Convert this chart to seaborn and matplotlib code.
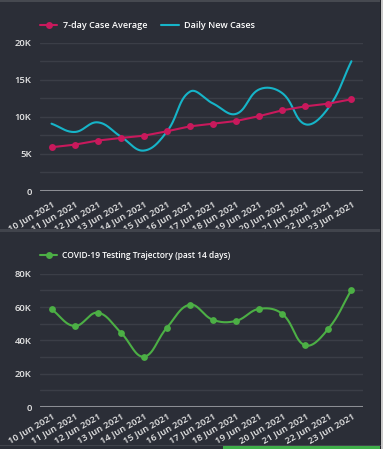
import numpy as np
import pandas as pd
import matplotlib
matplotlib.use("Agg")
import matplotlib.pyplot as plt
from matplotlib.patches import Rectangle
from matplotlib.ticker import FuncFormatter, MultipleLocator
import seaborn as sns

# ---------------- data ----------------
dates = ["10 Jun 2021", "11 Jun 2021", "12 Jun 2021", "13 Jun 2021", "14 Jun 2021",
         "15 Jun 2021", "16 Jun 2021", "17 Jun 2021", "18 Jun 2021", "19 Jun 2021",
         "20 Jun 2021", "21 Jun 2021", "22 Jun 2021", "23 Jun 2021"]
avg_cases = [5900, 6250, 6800, 7150, 7460, 8050, 8720, 9080, 9440, 10100,
             10880, 11420, 11780, 12370]
daily_cases = [9080, 7960, 9260, 7350, 5450, 8000, 13400, 11800, 10400, 13700,
               13200, 9000, 11200, 17500]
tests = [58700, 48600, 56600, 44700, 30200, 47600, 61400, 52300, 51700, 58900,
         55900, 37000, 47000, 70300]

BG = "#2b2e37"
GRID = "#3b3e47"
TXT = "#e6e6e6"
RED = "#c8195c"
CYAN = "#16b4c8"
GREEN = "#4caf45"
FS_TICK = 6.8

sns.set_theme(style="dark")
plt.rcParams["font.family"] = ["Open Sans", "DejaVu Sans"]

fig = plt.figure(figsize=(3.83, 4.49), dpi=100, facecolor=BG)


def kfmt(v, _):
    return "0" if v == 0 else f"{int(v/1000)}K"


def spline(ax, xs, ys, tension=0.4, n=30):
    """Chart.js-like cardinal spline computed in display space."""
    pts = ax.transData.transform(np.column_stack([xs, ys]))
    m = len(pts)
    cps = []
    for i in range(m):
        p1 = pts[i]
        p0 = pts[i - 1] if i > 0 else p1
        p2 = pts[i + 1] if i < m - 1 else p1
        d01 = np.hypot(*(p1 - p0))
        d12 = np.hypot(*(p2 - p1))
        tot = d01 + d12
        s01 = d01 / tot if tot else 0
        s12 = d12 / tot if tot else 0
        fa, fb = tension * s01, tension * s12
        cps.append((p1 - fa * (p2 - p0), p1 + fb * (p2 - p0)))
    out = []
    t = np.linspace(0, 1, n)[:, None]
    for i in range(m - 1):
        a, b = pts[i], pts[i + 1]
        c1, c2 = cps[i][1], cps[i + 1][0]
        seg = ((1 - t) ** 3) * a + 3 * ((1 - t) ** 2) * t * c1 + 3 * (1 - t) * t ** 2 * c2 + t ** 3 * b
        out.append(seg if i == 0 else seg[1:])
    out = np.vstack(out)
    data = ax.transData.inverted().transform(out)
    return data[:, 0], data[:, 1]


def style_axes(ax, ymax, step, minor, xpad):
    ax.set_facecolor(BG)
    ax.set_xlim(-0.5, len(dates) - 0.5)
    ax.set_ylim(0, ymax)
    ax.yaxis.set_major_locator(MultipleLocator(step))
    ax.yaxis.set_minor_locator(MultipleLocator(minor))
    ax.yaxis.set_major_formatter(FuncFormatter(kfmt))
    ax.grid(True, which="both", axis="y", color=GRID, linewidth=1)
    ax.grid(False, axis="x")
    for s in ax.spines.values():
        s.set_visible(False)
    ax.axhline(0, color="#8c8e94", linewidth=2.2, zorder=1.5)
    ax.set_xticks(range(len(dates)))
    ax.set_xticklabels(dates, rotation=30, ha="right", rotation_mode="anchor",
                       fontsize=FS_TICK, color=TXT, fontweight="semibold")
    ax.tick_params(axis="y", labelsize=FS_TICK, labelcolor=TXT, length=0, pad=6)
    ax.tick_params(axis="x", length=0, pad=xpad)
    for lab in ax.get_yticklabels():
        lab.set_fontweight("semibold")
    ax.set_xlabel("")
    ax.set_ylabel("")


# ---------------- top chart ----------------
ax1 = fig.add_axes([0.1044, 0.5746, 0.8433, 0.3303])
style_axes(ax1, 20000, 5000, 2500, 6)
idx = np.arange(len(dates))
sx, sy = spline(ax1, idx, daily_cases)
sns.lineplot(x=sx, y=sy, ax=ax1, color=CYAN, linewidth=1.5, sort=False,
             estimator=None, zorder=3)
sns.lineplot(x=idx, y=avg_cases, ax=ax1, color=RED, linewidth=1.5, marker="o",
             markersize=5, markeredgewidth=0, estimator=None, zorder=4)
ax1.set_xlim(-0.5, len(dates) - 0.5)
ax1.set_ylim(0, 20000)

h1 = [plt.Line2D([], [], color=RED, lw=1.5, marker="o", markersize=5, markeredgewidth=0),
      plt.Line2D([], [], color=CYAN, lw=1.5)]
leg = ax1.legend(h1, ["7-day Case Average", "Daily New Cases"], loc="lower left",
                 bbox_to_anchor=(0.0, 1.085), ncol=2, frameon=False, fontsize=6.5,
                 handlelength=1.9, handletextpad=0.6, columnspacing=1.6, borderaxespad=0,
                 borderpad=0)
for t in leg.get_texts():
    t.set_color("white")
    t.set_fontweight("semibold")

# ---------------- bottom chart ----------------
ax2 = fig.add_axes([0.1044, 0.0935, 0.8433, 0.2969])
style_axes(ax2, 80000, 20000, 10000, 3)
gx, gy = spline(ax2, idx, tests)
sns.lineplot(x=gx, y=gy, ax=ax2, color=GREEN, linewidth=1.5, sort=False,
             estimator=None, zorder=3)
sns.scatterplot(x=idx, y=tests, ax=ax2, color=GREEN, s=24, linewidth=0, zorder=4)
ax2.set_xlim(-0.5, len(dates) - 0.5)
ax2.set_ylim(0, 80000)

h2 = [plt.Line2D([], [], color=GREEN, lw=1.5, marker="o", markersize=5, markeredgewidth=0)]
leg2 = ax2.legend(h2, ["COVID-19 Testing Trajectory (past 14 days)"], loc="lower left",
                  bbox_to_anchor=(0.0, 1.106), frameon=False, fontsize=6.0,
                  handlelength=2.1, handletextpad=0.55, borderaxespad=0, borderpad=0)
for t in leg2.get_texts():
    t.set_color("white")
    t.set_fontweight("semibold")

# ---------------- panel decorations ----------------
W, H = 383, 449


def rect(x, y, w, h, c):
    fig.add_artist(Rectangle((x / W, 1 - (y + h) / H), w / W, h / H,
                             transform=fig.transFigure, color=c, lw=0, zorder=0.5))


rect(0, 0, 383, 2, "#464950")
rect(0, 229, 381, 3, "#41444c")
rect(380, 0, 1, 449, "#1f2127")
rect(381, 0, 2, 449, "#c9c9c9")
rect(0, 445, 381, 1, "#41444c")
rect(223, 446, 157, 3, "#3fae49")

fig.savefig("out.png", dpi=100, facecolor=BG)
